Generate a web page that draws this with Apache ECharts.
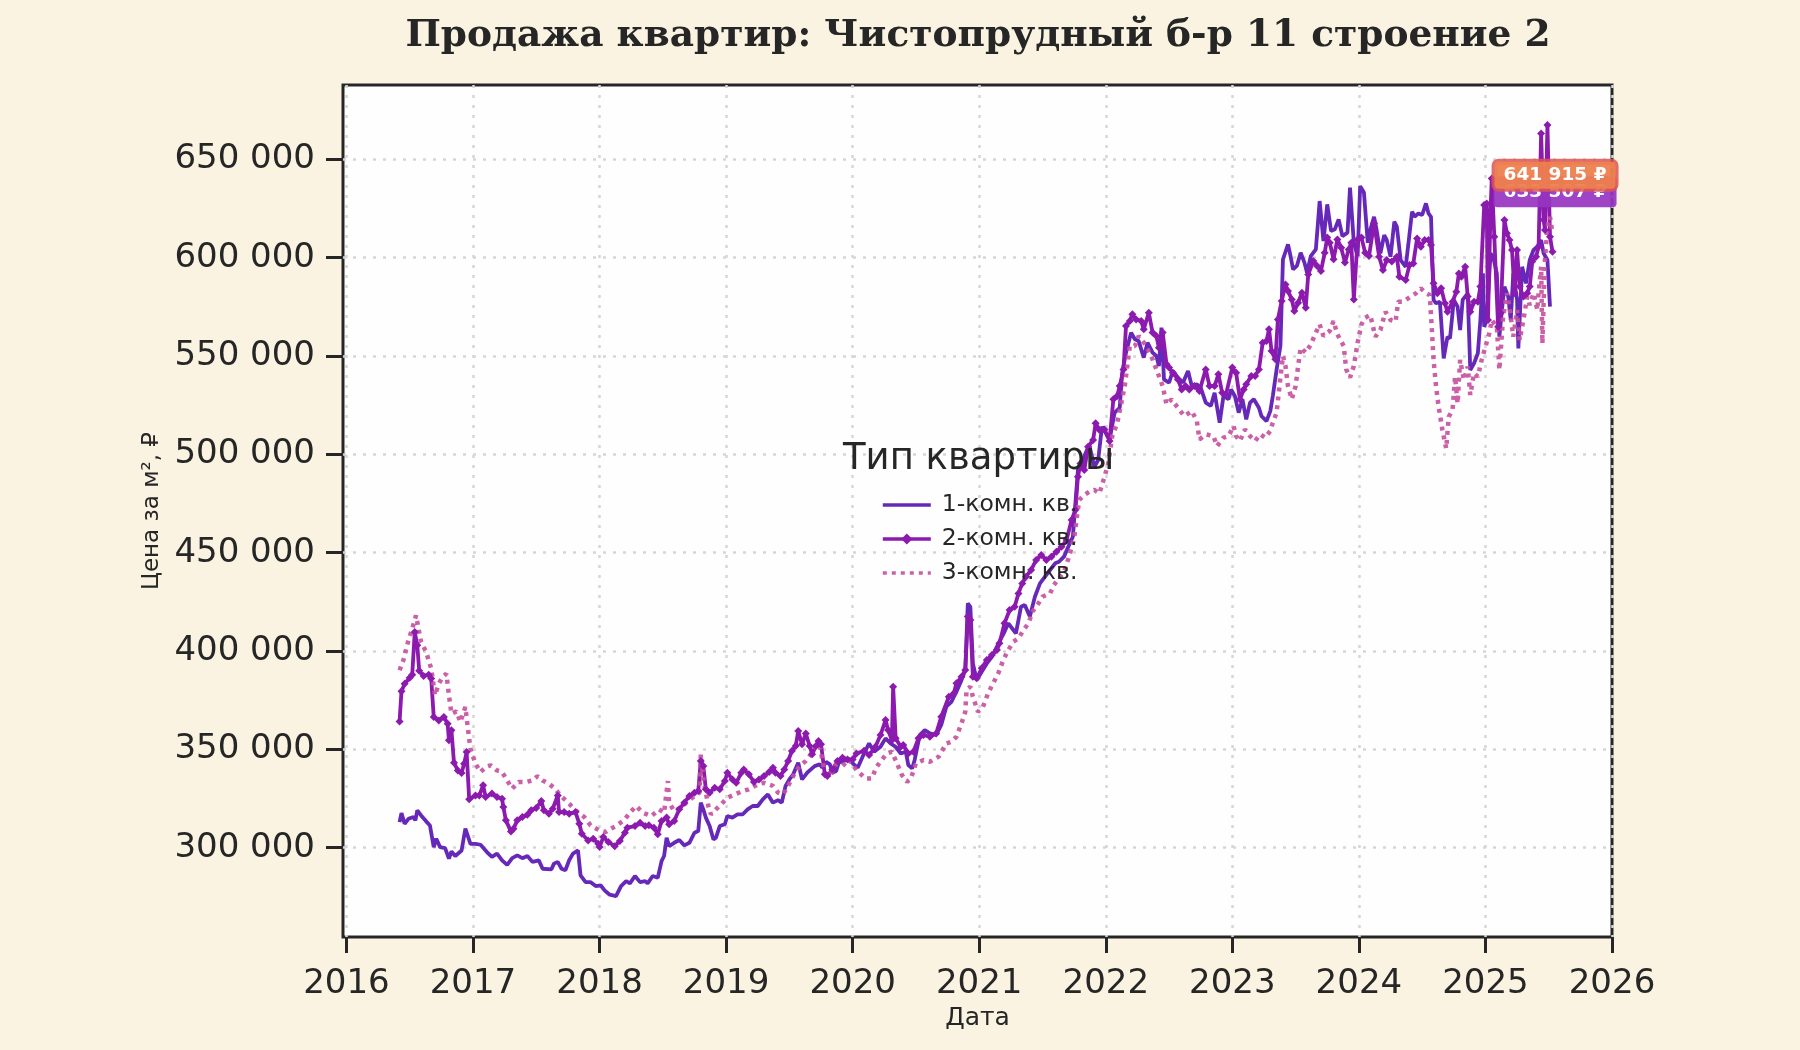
<!DOCTYPE html>
<html>
<head>
<meta charset="utf-8">
<title>Продажа квартир</title>
<script src="https://cdn.jsdelivr.net/npm/echarts@6/dist/echarts.min.js"></script>
<style>
  html, body { margin: 0; padding: 0; background: #faf3e1; }
  #chart { width: 1800px; height: 1050px; }
</style>
</head>
<body>
<div id="chart"></div>
<script>
// подписи осей
var xTicks = [2016, 2017, 2018, 2019, 2020, 2021, 2022, 2023, 2024, 2025, 2026];
var yTicks = [300000, 350000, 400000, 450000, 500000, 550000, 600000, 650000];
var seriesNames = ['1-комн. кв.', '2-комн. кв.', '3-комн. кв.'];

// цена за м², [год, руб]
var oneRoom = [
  [2016.42,313000],[2016.435,317600],[2016.46,312200],[2016.49,314700],[2016.53,315600],[2016.545,313900],[2016.56,319000],[2016.59,316400],
  [2016.63,313400],[2016.66,311300],[2016.69,300300],[2016.71,304600],[2016.74,300300],[2016.78,299800],[2016.81,294400],[2016.83,298100],
  [2016.86,295800],[2016.91,298600],[2016.94,309700],[2016.98,302000],[2017.02,302000],[2017.06,301500],[2017.11,297800],[2017.15,295300],
  [2017.19,297000],[2017.23,293600],[2017.27,291300],[2017.31,294700],[2017.35,296100],[2017.39,294700],[2017.43,295800],[2017.47,292800],
  [2017.52,293600],[2017.55,289300],[2017.62,289000],[2017.64,291900],[2017.67,292800],[2017.70,289300],[2017.73,288500],[2017.76,293600],
  [2017.79,297000],[2017.83,298600],[2017.85,285900],[2017.89,282500],[2017.93,282500],[2017.97,280500],[2018.01,280800],[2018.04,278300],
  [2018.08,276100],[2018.13,275400],[2018.17,280500],[2018.21,283000],[2018.24,281900],[2018.28,285600],[2018.32,282500],[2018.36,283000],
  [2018.38,281900],[2018.42,285600],[2018.46,284700],[2018.49,293200],[2018.51,295800],[2018.53,305100],[2018.55,300800],[2018.59,302500],
  [2018.63,303900],[2018.67,301200],[2018.71,302500],[2018.75,307600],[2018.78,308500],[2018.80,322900],[2018.82,319500],[2018.84,315300],
  [2018.87,311000],[2018.90,304200],[2018.92,305100],[2018.95,311000],[2018.99,311900],[2019.01,316100],[2019.05,315300],[2019.09,316900],
  [2019.13,316900],[2019.17,319500],[2019.21,321200],[2019.25,321200],[2019.29,324600],[2019.33,327100],[2019.37,322900],[2019.41,324200],
  [2019.44,322900],[2019.47,331400],[2019.50,334700],[2019.53,337300],[2019.57,343200],[2019.60,334700],[2019.64,338100],[2019.67,339800],
  [2019.70,341500],[2019.74,342400],[2019.76,340700],[2019.79,343600],[2019.82,342400],[2019.84,338100],[2019.87,339000],[2019.89,343200],
  [2019.93,344100],[2019.97,344900],[2020.01,342400],[2020.04,340700],[2020.09,347900],[2020.13,353000],[2020.17,348800],[2020.22,351300],
  [2020.26,355600],[2020.30,353000],[2020.34,351300],[2020.38,347900],[2020.42,348800],[2020.44,342000],[2020.47,340300],[2020.49,344600],
  [2020.53,357300],[2020.57,359800],[2020.61,358100],[2020.66,357300],[2020.70,362400],[2020.74,371700],[2020.78,374200],[2020.82,379300],
  [2020.86,385200],[2020.89,390300],[2020.91,424200],[2020.93,422500],[2020.95,393700],[2020.98,385200],[2021.02,389500],[2021.06,393700],
  [2021.10,397100],[2021.14,402200],[2021.18,407300],[2021.20,409800],[2021.23,414100],[2021.27,410700],[2021.29,409000],[2021.33,422500],
  [2021.36,423400],[2021.40,417500],[2021.44,427600],[2021.48,434400],[2021.52,437800],[2021.56,441200],[2021.60,444600],[2021.63,445400],
  [2021.67,448000],[2021.71,453900],[2021.74,458100],[2021.78,492000],[2021.80,493700],[2021.84,500500],[2021.87,504700],[2021.91,493700],
  [2021.94,497100],[2021.97,514100],[2022.03,507600],[2022.07,521200],[2022.11,523700],[2022.13,541500],[2022.16,551700],[2022.20,561900],
  [2022.23,558500],[2022.26,557600],[2022.30,549200],[2022.33,556800],[2022.37,551700],[2022.40,550000],[2022.42,544900],[2022.44,564400],
  [2022.46,538100],[2022.50,536400],[2022.53,542400],[2022.57,539000],[2022.61,536400],[2022.65,542400],[2022.68,534700],[2022.72,535600],
  [2022.75,533900],[2022.79,526300],[2022.83,524600],[2022.86,531300],[2022.90,516100],[2022.93,529700],[2022.97,528000],[2022.99,533000],
  [2023.02,529700],[2023.05,521200],[2023.08,528000],[2023.11,517800],[2023.14,526300],[2023.17,528000],[2023.21,523700],[2023.23,519500],
  [2023.27,516900],[2023.30,522000],[2023.32,529700],[2023.35,543200],[2023.38,555100],[2023.40,599200],[2023.44,606800],[2023.46,600800],
  [2023.48,594100],[2023.51,595800],[2023.54,602500],[2023.57,597500],[2023.59,592400],[2023.62,600800],[2023.66,604200],[2023.69,628800],
  [2023.72,608500],[2023.75,627100],[2023.78,613600],[2023.81,614400],[2023.84,619500],[2023.87,611000],[2023.91,612700],[2023.93,635600],
  [2023.96,607600],[2023.99,600800],[2024.01,636400],[2024.04,633100],[2024.07,607600],[2024.09,614100],[2024.12,620800],[2024.14,614100],
  [2024.17,602200],[2024.20,611500],[2024.22,609000],[2024.25,600500],[2024.28,618300],[2024.30,615800],[2024.33,598800],[2024.37,595400],
  [2024.39,606400],[2024.42,623400],[2024.44,620800],[2024.47,622500],[2024.50,621700],[2024.53,627600],[2024.55,622500],[2024.57,620800],
  [2024.59,578500],[2024.61,576800],[2024.64,577600],[2024.67,548800],[2024.70,559800],[2024.72,559000],[2024.75,578500],[2024.78,575100],
  [2024.80,563200],[2024.82,578500],[2024.86,581900],[2024.88,542900],[2024.91,546300],[2024.94,551400],[2024.96,568300],[2024.98,592000],
  [2024.99,564900],[2025.01,568300],[2025.04,602200],[2025.06,600500],[2025.09,592000],[2025.11,559800],[2025.13,573400],[2025.15,585300],
  [2025.18,580200],[2025.20,568300],[2025.22,592000],[2025.25,578500],[2025.26,553900],[2025.29,595400],[2025.32,586900],[2025.35,598800],
  [2025.38,603900],[2025.41,605600],[2025.44,609000],[2025.46,602200],[2025.49,598800],[2025.51,575100]
];

var twoRoom = [
  [2016.42,364200],[2016.435,379500],[2016.46,383400],[2016.50,386400],[2016.52,388000],[2016.54,409700],[2016.56,402900],[2016.575,390000],
  [2016.61,387300],[2016.65,388000],[2016.67,386000],[2016.69,366400],[2016.73,364700],[2016.77,366400],[2016.80,363000],[2016.81,354600],
  [2016.83,359700],[2016.85,343200],[2016.88,339300],[2016.91,338000],[2016.93,342700],[2016.95,348600],[2016.97,324600],[2017.02,326600],
  [2017.05,326600],[2017.08,331700],[2017.10,325800],[2017.15,327500],[2017.19,325800],[2017.23,324900],[2017.24,320700],[2017.26,313900],
  [2017.30,308300],[2017.32,309700],[2017.35,313900],[2017.39,315600],[2017.43,316800],[2017.46,319000],[2017.50,320200],[2017.54,323700],
  [2017.56,319000],[2017.60,317300],[2017.63,319800],[2017.67,326600],[2017.68,318100],[2017.72,318100],[2017.76,317300],[2017.81,318100],
  [2017.84,312200],[2017.86,307100],[2017.91,303700],[2017.95,304600],[2017.99,302000],[2018.00,300300],[2018.03,305400],[2018.07,302900],
  [2018.12,300800],[2018.16,303400],[2018.20,307600],[2018.22,310200],[2018.28,311000],[2018.32,312700],[2018.36,311000],[2018.39,311400],
  [2018.43,310200],[2018.46,306800],[2018.49,313600],[2018.53,315300],[2018.55,311900],[2018.59,313600],[2018.63,319500],[2018.67,322900],
  [2018.71,326300],[2018.75,328000],[2018.78,328800],[2018.80,344100],[2018.82,341500],[2018.84,329700],[2018.87,328000],[2018.91,330500],
  [2018.95,329700],[2018.99,333900],[2019.01,338100],[2019.05,334700],[2019.08,333000],[2019.12,338100],[2019.14,339800],[2019.18,337300],
  [2019.22,333400],[2019.26,334700],[2019.30,336400],[2019.34,338500],[2019.37,340700],[2019.39,338100],[2019.43,336400],[2019.46,339800],
  [2019.49,344100],[2019.52,349200],[2019.55,351700],[2019.57,359300],[2019.60,352600],[2019.63,358100],[2019.66,351700],[2019.68,347500],
  [2019.71,351700],[2019.73,354200],[2019.75,352600],[2019.78,337300],[2019.80,336400],[2019.84,339800],[2019.88,344100],[2019.92,345800],
  [2019.96,344900],[2020.00,344900],[2020.03,347900],[2020.09,349300],[2020.13,347100],[2020.18,351300],[2020.22,357300],[2020.26,364900],
  [2020.28,359800],[2020.31,354700],[2020.32,381900],[2020.34,355600],[2020.38,351300],[2020.40,352200],[2020.44,347900],[2020.48,348800],
  [2020.52,355600],[2020.56,357300],[2020.61,356400],[2020.66,358100],[2020.70,366600],[2020.76,376800],[2020.80,378500],[2020.82,383600],
  [2020.86,386900],[2020.89,390300],[2020.91,417500],[2020.93,415800],[2020.95,386900],[2020.98,386100],[2021.02,391200],[2021.06,395400],
  [2021.10,398000],[2021.14,400500],[2021.16,403900],[2021.20,414100],[2021.24,420800],[2021.28,422500],[2021.31,429300],[2021.34,434400],
  [2021.37,437800],[2021.41,441200],[2021.45,446300],[2021.49,448800],[2021.53,446300],[2021.57,448000],[2021.61,450500],[2021.65,453000],
  [2021.69,456400],[2021.73,466600],[2021.76,471700],[2021.78,488600],[2021.80,495400],[2021.83,492000],[2021.86,503900],[2021.90,507300],
  [2021.92,515800],[2021.95,512400],[2021.99,512700],[2022.03,506800],[2022.06,528000],[2022.09,529700],[2022.11,534700],[2022.14,543200],
  [2022.16,565300],[2022.19,567800],[2022.21,571200],[2022.24,568600],[2022.28,567800],[2022.30,563600],[2022.34,572000],[2022.37,561900],
  [2022.40,560200],[2022.42,554200],[2022.45,561900],[2022.48,545800],[2022.50,544100],[2022.53,541500],[2022.57,538100],[2022.60,533000],
  [2022.63,534700],[2022.66,533000],[2022.70,534700],[2022.74,532200],[2022.79,543200],[2022.82,534700],[2022.86,534700],[2022.89,540700],
  [2022.92,531300],[2022.95,530500],[2023.00,544100],[2023.03,541500],[2023.06,528000],[2023.09,533000],[2023.11,535600],[2023.15,539800],
  [2023.18,539800],[2023.21,543200],[2023.24,556800],[2023.27,557600],[2023.29,563600],[2023.31,552500],[2023.34,548300],[2023.36,568600],
  [2023.39,578000],[2023.42,586400],[2023.44,583000],[2023.47,578800],[2023.49,572900],[2023.52,577100],[2023.55,582200],[2023.58,574600],
  [2023.60,591500],[2023.64,598300],[2023.67,595800],[2023.70,593200],[2023.73,602500],[2023.75,610200],[2023.77,607600],[2023.80,599200],
  [2023.83,609300],[2023.86,605100],[2023.89,597500],[2023.92,604200],[2023.94,607600],[2023.96,578800],[2023.99,609300],[2024.02,610200],
  [2024.05,602500],[2024.08,600800],[2024.12,617500],[2024.16,600500],[2024.19,593700],[2024.22,598800],[2024.26,598000],[2024.30,600500],
  [2024.32,590300],[2024.37,588600],[2024.40,596300],[2024.43,597100],[2024.46,609800],[2024.49,605600],[2024.52,609000],[2024.55,609000],
  [2024.57,606400],[2024.59,587000],[2024.62,581900],[2024.65,584400],[2024.68,576800],[2024.70,572500],[2024.74,577600],[2024.77,582700],
  [2024.79,592000],[2024.81,590300],[2024.84,595400],[2024.86,580200],[2024.88,572500],[2024.91,577600],[2024.94,577600],[2024.96,585300],
  [2024.99,626800],[2025.01,627600],[2025.02,568300],[2025.04,623400],[2025.05,640300],[2025.07,610700],[2025.10,564900],[2025.12,571700],
  [2025.15,619200],[2025.17,612400],[2025.19,609000],[2025.21,603900],[2025.23,581900],[2025.25,603900],[2025.27,585300],[2025.30,580200],
  [2025.33,581900],[2025.35,585300],[2025.37,598000],[2025.40,600500],[2025.42,605600],[2025.44,663200],[2025.46,619200],[2025.47,614100],
  [2025.49,667500],[2025.51,610700],[2025.53,603000]
];

var threeRoom = [
  [2016.42,390200],[2016.45,395300],[2016.49,405400],[2016.52,411400],[2016.55,418100],[2016.59,404600],[2016.63,399500],[2016.67,391000],
  [2016.70,377500],[2016.73,383400],[2016.76,386800],[2016.79,388500],[2016.81,377500],[2016.83,368100],[2016.87,369300],[2016.90,363900],
  [2016.94,371500],[2016.96,360500],[2016.98,350300],[2017.02,342700],[2017.06,338500],[2017.10,341000],[2017.14,341900],[2017.19,339300],
  [2017.23,338500],[2017.27,334200],[2017.31,330000],[2017.36,333400],[2017.42,333400],[2017.47,334200],[2017.51,336400],[2017.55,334200],
  [2017.60,332500],[2017.65,330000],[2017.69,326600],[2017.76,322400],[2017.81,319000],[2017.88,315600],[2017.93,311300],[2018.00,308800],
  [2018.05,308000],[2018.08,309300],[2018.13,311000],[2018.20,314400],[2018.24,317800],[2018.29,321200],[2018.34,317800],[2018.41,316100],
  [2018.47,319500],[2018.51,317800],[2018.54,333900],[2018.55,322900],[2018.59,318600],[2018.64,320300],[2018.70,323700],[2018.75,326300],
  [2018.79,328000],[2018.80,347500],[2018.82,334700],[2018.86,321200],[2018.88,316900],[2018.92,319500],[2018.96,322000],[2019.01,325400],
  [2019.07,327100],[2019.13,328800],[2019.18,329700],[2019.25,332200],[2019.30,333000],[2019.37,331400],[2019.41,328000],[2019.45,327100],
  [2019.49,331400],[2019.53,336400],[2019.58,341500],[2019.63,344100],[2019.67,347500],[2019.71,352600],[2019.74,351700],[2019.78,338100],
  [2019.82,336400],[2019.87,342400],[2019.92,341500],[2019.97,344900],[2020.03,339500],[2020.10,335200],[2020.15,335200],[2020.19,341200],
  [2020.23,344600],[2020.27,347900],[2020.31,348800],[2020.35,342900],[2020.39,336900],[2020.43,333500],[2020.46,335200],[2020.50,342900],
  [2020.56,344600],[2020.61,343700],[2020.68,346300],[2020.74,353000],[2020.78,353900],[2020.82,356400],[2020.86,363200],[2020.89,369100],
  [2020.90,380200],[2020.93,381900],[2020.95,376800],[2020.99,369100],[2021.03,371700],[2021.07,378500],[2021.11,383600],[2021.15,388600],
  [2021.19,395400],[2021.23,400500],[2021.27,404700],[2021.31,406400],[2021.35,410700],[2021.39,414100],[2021.42,420000],[2021.46,423400],
  [2021.50,427600],[2021.56,429300],[2021.59,433600],[2021.63,436900],[2021.67,440300],[2021.71,448000],[2021.75,457300],[2021.79,476800],
  [2021.83,479300],[2021.87,481000],[2021.91,481900],[2021.95,480200],[2021.99,488600],[2022.02,495400],[2022.05,509000],[2022.09,515800],
  [2022.15,534700],[2022.19,555100],[2022.23,555100],[2022.26,560200],[2022.32,555100],[2022.37,548300],[2022.41,541500],[2022.45,534700],
  [2022.48,525400],[2022.52,528000],[2022.57,523700],[2022.62,519500],[2022.68,522000],[2022.72,516900],[2022.74,507600],[2022.79,510200],
  [2022.85,509300],[2022.88,504200],[2022.93,508500],[2022.97,509300],[2023.01,514400],[2023.03,509300],[2023.06,506800],[2023.10,512700],
  [2023.14,509300],[2023.18,506800],[2023.22,510200],[2023.26,508500],[2023.30,511900],[2023.32,516100],[2023.35,521200],[2023.38,539000],
  [2023.40,550000],[2023.42,544900],[2023.44,534700],[2023.47,528000],[2023.50,534700],[2023.52,544900],[2023.54,554200],[2023.58,551700],
  [2023.62,555900],[2023.66,561900],[2023.69,566100],[2023.72,560200],[2023.77,562700],[2023.80,567800],[2023.83,561000],[2023.88,555100],
  [2023.90,543200],[2023.93,539000],[2023.96,544900],[2023.99,556800],[2024.02,566100],[2024.05,569500],[2024.09,570800],[2024.13,559800],
  [2024.17,563200],[2024.21,572500],[2024.25,568300],[2024.29,567500],[2024.31,577600],[2024.35,577600],[2024.41,580200],[2024.45,581900],
  [2024.49,584400],[2024.53,581900],[2024.56,581000],[2024.58,559800],[2024.59,548000],[2024.61,534400],[2024.63,524200],[2024.66,512400],
  [2024.69,503000],[2024.71,519100],[2024.74,522500],[2024.76,539500],[2024.78,525900],[2024.80,548000],[2024.83,537800],[2024.86,544600],
  [2024.88,530200],[2024.91,541200],[2024.94,539500],[2024.97,548000],[2025.00,554700],[2025.03,561500],[2025.05,568300],[2025.09,564900],
  [2025.11,542900],[2025.14,570000],[2025.17,581900],[2025.19,575100],[2025.22,559800],[2025.25,573400],[2025.27,558100],[2025.30,568300],
  [2025.33,580200],[2025.35,575900],[2025.38,581900],[2025.41,573400],[2025.42,581900],[2025.44,595400],[2025.45,556400],[2025.47,598800],
  [2025.49,615800],[2025.51,620800],[2025.53,612400]
];

// подписи последних значений
var labelDate = 2025.55;
var labelValues = [633507, 641915];

var colors = ['#6628b8', '#8c1aaf', '#c4509c'];
var font = 'DejaVu Sans';

function fmtRub(v) {
  return String(Math.round(v)).replace(/\B(?=(\d{3})+(?!\d))/g, ' ');
}

function endLabel(value, bg, border) {
  return {
    symbol: 'rect', symbolSize: 1,
    itemStyle: { color: 'rgba(0,0,0,0)' },
    z: 10,
    label: {
      show: true, position: 'inside',
      formatter: function (p) { return fmtRub(p.value) + ' ₽'; },
      fontFamily: font, fontWeight: 'bold', fontSize: 18.5, color: '#ffffff',
      backgroundColor: bg, borderColor: border, borderWidth: border ? 3 : 0,
      borderRadius: 4, padding: border ? [4, 9] : [6, 10]
    },
    data: [{ coord: [labelDate, value], value: value }]
  };
}

var chart = echarts.init(document.getElementById('chart'));

var option = {
  animation: false,
  backgroundColor: '#faf3e1',
  title: [
    {
      text: 'Продажа квартир: Чистопрудный б-р 11 строение 2',
      left: 973, top: 12, textAlign: 'center',
      textStyle: { fontFamily: 'DejaVu Serif', fontWeight: 'bold', fontSize: 37.5, color: '#262626' }
    },
    {
      // заголовок легенды
      text: 'Тип квартиры',
      left: 838, top: 436,
      textStyle: { fontFamily: font, fontWeight: 'normal', fontSize: 37, color: '#262626' }
    }
  ],
  legend: {
    orient: 'vertical',
    left: 876, top: 488,
    itemWidth: 48, itemHeight: 14, itemGap: 10,
    lineStyle: { width: 3.6 },
    data: [
      { name: seriesNames[0], itemStyle: { opacity: 0 } },
      { name: seriesNames[1] },
      { name: seriesNames[2], itemStyle: { opacity: 0 } }
    ],
    textStyle: { fontFamily: font, fontSize: 23.5, color: '#262626', padding: [0, 0, 0, 6] }
  },
  grid: {
    left: 343, right: 188, top: 85, bottom: 113,
    show: true, backgroundColor: '#fefefe',
    borderColor: '#262626', borderWidth: 3
  },
  xAxis: {
    type: 'value',
    min: 2015.973, max: 2026,
    name: 'Дата', nameLocation: 'middle', nameGap: 69,
    nameTextStyle: { fontFamily: font, fontSize: 25, color: '#262626' },
    axisLine: { show: false },
    axisTick: { show: true, length: 16, customValues: xTicks, lineStyle: { color: '#262626', width: 3 } },
    axisLabel: {
      customValues: xTicks, margin: 30,
      fontFamily: font, fontSize: 34, color: '#262626',
      formatter: function (v) { return String(Math.round(v)); }
    },
    splitLine: { show: true, lineStyle: { color: '#d6d6d6', width: 2.5, type: [3, 7] } }
  },
  yAxis: {
    type: 'value',
    min: 254600, max: 687800,
    name: 'Цена за м², ₽', nameLocation: 'middle', nameGap: 177,
    nameTextStyle: { fontFamily: font, fontSize: 23, color: '#262626' },
    axisLine: { show: false },
    axisTick: { show: true, length: 17, customValues: yTicks, lineStyle: { color: '#262626', width: 3 } },
    axisLabel: {
      customValues: yTicks, margin: 28,
      fontFamily: font, fontSize: 34, color: '#262626',
      formatter: fmtRub
    },
    splitLine: { show: true, lineStyle: { color: '#d6d6d6', width: 2.5, type: [3, 7] } }
  },
  series: [
    {
      name: seriesNames[0], type: 'line', data: oneRoom,
      symbol: 'none', color: colors[0],
      lineStyle: { width: 3.8, color: colors[0] },
      markPoint: endLabel(labelValues[0], 'rgba(150,52,192,0.92)', null)
    },
    {
      name: seriesNames[1], type: 'line', data: twoRoom,
      symbol: 'diamond', symbolSize: 8, showSymbol: true, color: colors[1],
      itemStyle: { color: colors[1] },
      lineStyle: { width: 3.8, color: colors[1] }
    },
    {
      name: seriesNames[2], type: 'line', data: threeRoom,
      symbol: 'none', color: colors[2],
      lineStyle: { width: 4.5, color: colors[2], type: [4, 5], opacity: 0.9 },
      markPoint: endLabel(labelValues[1], 'rgba(238,128,78,0.95)', 'rgba(220,85,85,0.85)')
    }
  ]
};

chart.setOption(option);
</script>
</body>
</html>
